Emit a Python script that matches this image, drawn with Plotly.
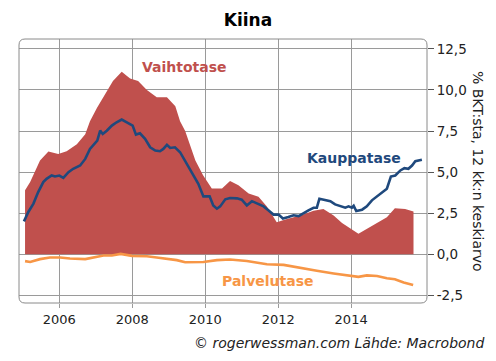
import plotly.graph_objects as go

# Vaihtotase (current account), % of GDP
vaihto_x = [2005.06, 2005.20, 2005.47, 2005.70, 2005.97, 2006.20, 2006.48, 2006.71, 2006.84,
            2007.03, 2007.47, 2007.71, 2007.94, 2008.16, 2008.40, 2008.67, 2008.95, 2009.18,
            2009.31, 2009.45, 2009.73, 2009.94, 2010.18, 2010.46, 2010.68, 2010.91, 2011.19,
            2011.46, 2011.69, 2011.96, 2012.24, 2012.61, 2012.97, 2013.24, 2013.52, 2013.75,
            2014.20, 2014.52, 2014.98, 2015.20, 2015.48, 2015.71]
vaihto_y = [3.9, 4.4, 5.7, 6.25, 6.1, 6.27, 6.7, 7.3, 8.1,
            8.9, 10.55, 11.1, 10.7, 10.55, 10.0, 9.55, 9.55, 9.0,
            8.1, 7.5, 5.7, 4.8, 4.0, 4.0, 4.45, 4.2, 3.7,
            3.5, 2.9, 1.95, 2.15, 2.35, 2.65, 2.75, 2.35, 1.9,
            1.25, 1.65, 2.25, 2.8, 2.75, 2.6]

# Kauppatase (trade balance)
kauppa_x = [2005.03, 2005.15, 2005.29, 2005.42, 2005.56, 2005.65, 2005.79, 2005.88, 2006.00,
            2006.11, 2006.25, 2006.38, 2006.57, 2006.71, 2006.84, 2006.98, 2007.04, 2007.12,
            2007.19, 2007.30, 2007.44, 2007.57, 2007.71, 2007.85, 2008.01, 2008.10, 2008.21,
            2008.35, 2008.49, 2008.63, 2008.76, 2008.85, 2008.95, 2009.04, 2009.17, 2009.31,
            2009.50, 2009.68, 2009.81, 2009.95, 2010.12, 2010.22, 2010.32, 2010.41, 2010.55,
            2010.68, 2010.87, 2011.00, 2011.14, 2011.28, 2011.42, 2011.60, 2011.73, 2011.87,
            2012.01, 2012.13, 2012.28, 2012.42, 2012.56, 2012.69, 2012.83, 2012.97, 2013.06,
            2013.13, 2013.29, 2013.43, 2013.56, 2013.70, 2013.84, 2013.93, 2014.02, 2014.07,
            2014.14, 2014.30, 2014.43, 2014.57, 2014.71, 2014.84, 2014.98, 2015.09, 2015.21,
            2015.35, 2015.46, 2015.57, 2015.67, 2015.76, 2015.94]
kauppa_y = [2.0, 2.57, 3.08, 3.78, 4.39, 4.59, 4.79, 4.73, 4.79,
            4.65, 4.99, 5.2, 5.4, 5.8, 6.41, 6.81, 6.92, 7.52,
            7.32, 7.52, 7.83, 8.03, 8.2, 8.03, 7.83, 7.28, 7.36,
            7.02, 6.51, 6.31, 6.27, 6.41, 6.66, 6.47, 6.51, 6.21,
            5.5, 4.79, 4.29, 3.52, 3.52, 2.97, 2.77, 2.91, 3.34,
            3.42, 3.40, 3.32, 2.97, 3.23, 3.08, 2.91, 2.67, 2.41,
            2.41, 2.17, 2.26, 2.37, 2.32, 2.51, 2.67, 2.83, 2.83,
            3.38, 3.28, 3.23, 3.03, 2.91, 2.83, 2.91, 2.83, 2.95,
            2.63, 2.71, 2.91, 3.28, 3.52, 3.78, 3.99, 4.73, 4.79,
            5.1, 5.24, 5.2, 5.4, 5.66, 5.75]

# Palvelutase (services balance)
palvelu_x = [2005.06, 2005.20, 2005.47, 2005.74, 2006.02, 2006.29, 2006.71, 2006.93, 2007.21,
             2007.44, 2007.68, 2007.99, 2008.40, 2008.67, 2008.95, 2009.22, 2009.45, 2009.95,
             2010.32, 2010.68, 2011.14, 2011.42, 2011.69, 2012.15, 2012.61, 2013.06, 2013.52,
             2013.88, 2014.20, 2014.43, 2014.71, 2014.98, 2015.20, 2015.44, 2015.70]
palvelu_y = [-0.42, -0.47, -0.30, -0.20, -0.20, -0.26, -0.30, -0.22, -0.08,
             -0.08, 0.02, -0.10, -0.12, -0.20, -0.26, -0.36, -0.49, -0.47,
             -0.36, -0.32, -0.41, -0.49, -0.61, -0.65, -0.85, -1.01, -1.17,
             -1.29, -1.38, -1.29, -1.33, -1.46, -1.52, -1.72, -1.88]

x_ticks = [2006, 2008, 2010, 2012, 2014]
y_ticks = [-2.5, 0.0, 2.5, 5.0, 7.5, 10.0, 12.5]
y_tick_labels = ["-2,5", "0,0", "2,5", "5,0", "7,5", "10,0", "12,5"]

RED = "#C0504D"
BLUE = "#1F497D"
ORANGE = "#F79646"
FONT = "DejaVu Sans"

W, H = 496, 361
ML, MR, MT, MB = 19, 69, 39, 58
PW, PH = W - ML - MR, H - MT - MB


def px(xp):
    return (xp - ML) / PW


def py(yp):
    return (H - MB - yp) / PH


fig = go.Figure()
fig.add_trace(go.Scatter(x=vaihto_x, y=vaihto_y, mode="lines", fill="tozeroy",
                         line=dict(width=0, color=RED), fillcolor=RED, hoverinfo="skip"))
fig.add_trace(go.Scatter(x=palvelu_x, y=palvelu_y, mode="lines",
                         line=dict(width=2.6, color=ORANGE)))
fig.add_trace(go.Scatter(x=kauppa_x, y=kauppa_y, mode="lines",
                         line=dict(width=2.6, color=BLUE)))

fig.update_layout(
    width=W, height=H,
    margin=dict(l=ML, r=MR, t=MT, b=MB),
    paper_bgcolor="white", plot_bgcolor="white",
    showlegend=False,
    font=dict(family=FONT, size=12, color="#222"),
    title=dict(text="<b>Kiina</b>", x=0.5, xanchor="center", y=1 - 20 / H, yanchor="middle",
               font=dict(family=FONT, size=17, color="black")),
    xaxis=dict(range=[2004.894, 2016.08], tickvals=x_ticks, ticktext=[str(t) for t in x_ticks],
               showgrid=True, gridcolor="#9a9a9a", gridwidth=1, zeroline=False,
               ticks="outside", ticklen=4, tickcolor="#9a9a9a", showline=False,
               tickfont=dict(size=13, color="#222")),
    yaxis=dict(range=[-2.97, 13.1], side="right", tickvals=y_ticks, ticktext=y_tick_labels,
               showgrid=True, gridcolor="#9a9a9a", gridwidth=1, zeroline=False,
               ticks="outside", ticklen=6, tickcolor="#555", showline=False,
               tickfont=dict(size=13.5, color="#222")),
)

# Rounded frame
rx, ry = 6 / PW, 6 / PH
path = (f"M {rx},0 L {1-rx},0 Q 1,0 1,{ry} L 1,{1-ry} Q 1,1 {1-rx},1 "
        f"L {rx},1 Q 0,1 0,{1-ry} L 0,{ry} Q 0,0 {rx},0 Z")
fig.add_shape(type="path", path=path, xref="x domain", yref="y domain",
              line=dict(color="#8a8a8a", width=1), layer="above")

fig.add_annotation(text="<b>Vaihtotase</b>", x=2009.42, y=11.4, xref="x", yref="y",
                   showarrow=False, font=dict(family=FONT, size=14, color=RED))
fig.add_annotation(text="<b>Kauppatase</b>", x=2014.08, y=5.83, xref="x", yref="y",
                   showarrow=False, font=dict(family=FONT, size=14, color=BLUE))
fig.add_annotation(text="<b>Palvelutase</b>", x=2011.71, y=-1.64, xref="x", yref="y",
                   showarrow=False, font=dict(family=FONT, size=14, color=ORANGE))
fig.add_annotation(text="% BKT:sta, 12 kk:n keskiarvo", textangle=90,
                   x=px(478), y=py(171), xref="paper", yref="paper", showarrow=False,
                   xanchor="center", yanchor="middle",
                   font=dict(family=FONT, size=14, color="#222"))
fig.add_annotation(text="<i>© rogerwessman.com Lähde: Macrobond</i>",
                   x=px(486), y=py(343), xref="paper", yref="paper", xanchor="right",
                   yanchor="middle", showarrow=False,
                   font=dict(family=FONT, size=14, color="#222"))

fig.write_html("out.html", config={"displayModeBar": False},
               post_script="document.body.style.margin='0';")
